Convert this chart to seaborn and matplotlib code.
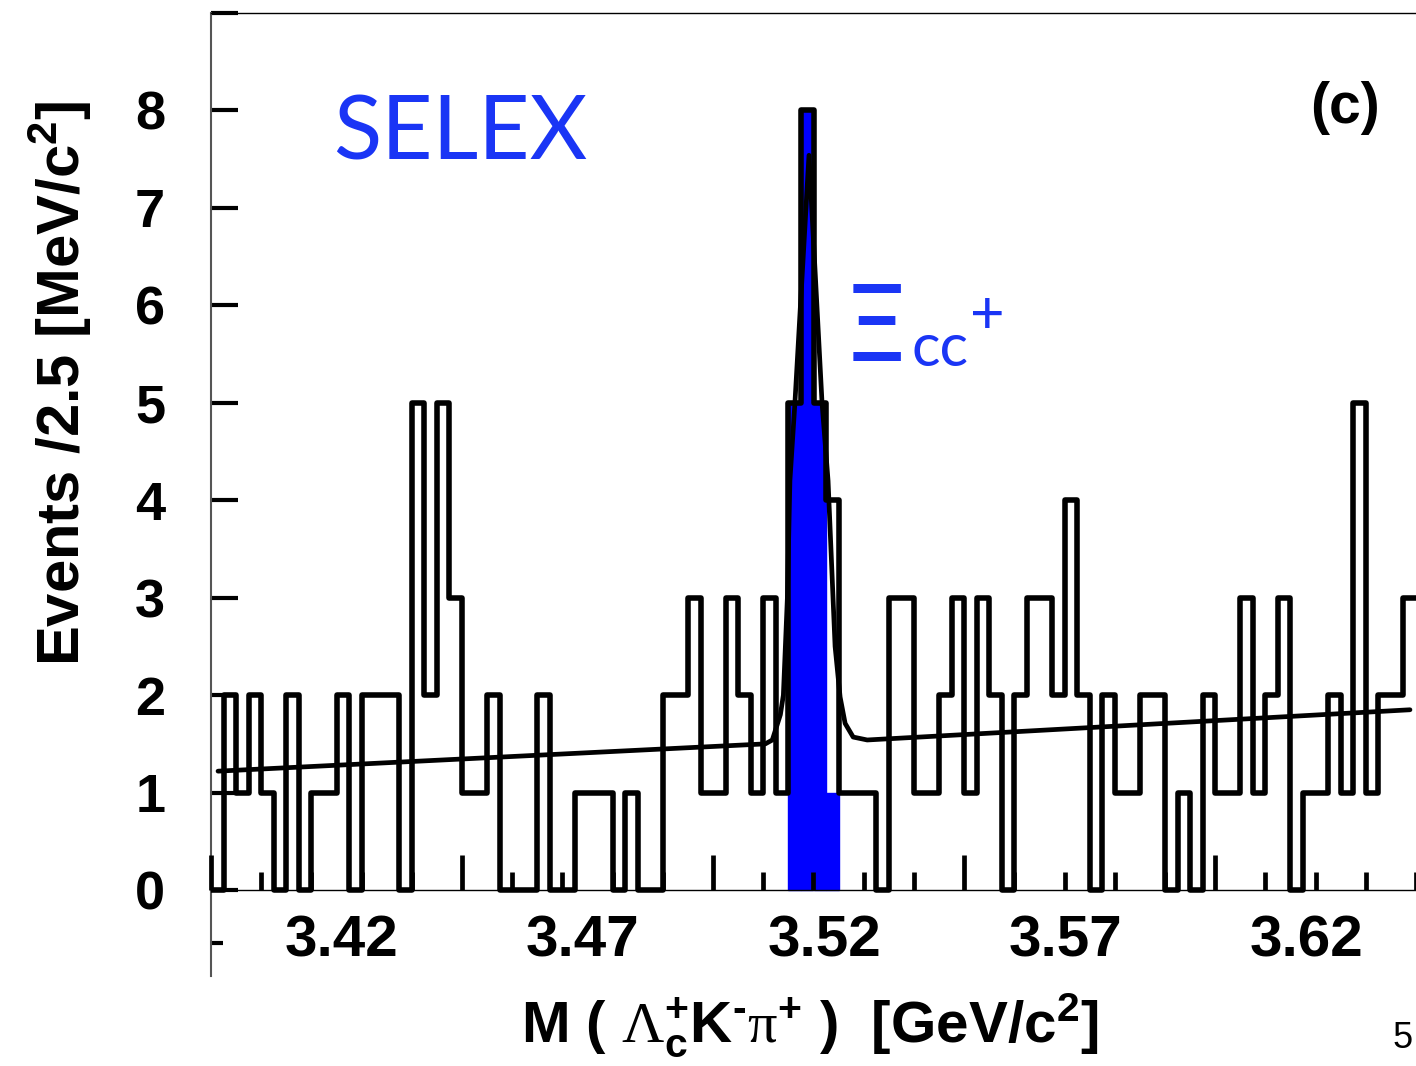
import numpy as np
import pandas as pd
import matplotlib
matplotlib.use("Agg")
import matplotlib.pyplot as plt
import seaborn as sns

# ---------------- data ----------------
mass_lo, mass_hi, n_bins = 3.40, 3.64, 96          # GeV/c^2, 2.5 MeV bins
counts = [0, 2, 1, 2, 1, 0, 2, 0, 1, 1,
          2, 0, 2, 2, 2, 0, 5, 2, 5, 3,
          1, 1, 2, 0, 0, 0, 2, 0, 0, 1,
          1, 1, 0, 1, 0, 0, 2, 2, 3, 1,
          1, 3, 2, 1, 3, 1, 5, 8, 5, 4,
          1, 1, 1, 0, 3, 3, 1, 1, 2, 3,
          1, 3, 2, 0, 2, 3, 3, 2, 4, 2,
          0, 2, 1, 1, 2, 2, 0, 1, 0, 2,
          1, 1, 3, 1, 2, 3, 0, 1, 1, 2,
          1, 5, 1, 2, 2, 3]
signal_first_bin = 46
signal_counts = [5, 8, 5, 1]

fit_mass = [3.4014, 3.5104, 3.5118, 3.5134, 3.5140, 3.5148, 3.5153, 3.5163,
            3.5191, 3.5217, 3.5229, 3.5243, 3.5253, 3.5263, 3.5279, 3.5307, 3.6388]
fit_events = [1.22, 1.50, 1.54, 1.80, 2.00, 3.00, 4.20, 5.00,
              7.54, 5.00, 4.20, 2.50, 1.98, 1.71, 1.57, 1.54, 1.85]

xtick_pos = [3.4259, 3.4739, 3.5221, 3.5701, 3.6181]
xtick_labels = ["3.42", "3.47", "3.52", "3.57", "3.62"]
ytick_vals = list(range(0, 10))
ytick_labels = ["0", "1", "2", "3", "4", "5", "6", "7", "8", ""]

# ---------------- style ----------------
sns.set_style("white")
plt.rcParams["font.family"] = ["Liberation Sans", "DejaVu Sans"]
plt.rcParams["text.color"] = "black"
plt.rcParams["xtick.color"] = "black"
plt.rcParams["ytick.color"] = "black"
plt.rcParams["mathtext.fontset"] = "custom"
plt.rcParams["mathtext.rm"] = "Liberation Sans:bold"
plt.rcParams["mathtext.it"] = "Liberation Sans:bold"
plt.rcParams["mathtext.bf"] = "Liberation Sans:bold"
plt.rcParams["mathtext.cal"] = "Liberation Serif"

W, H = 1416, 1066
fig = plt.figure(figsize=(W / 100, H / 100), dpi=100, facecolor="white")

def fx(px):
    return px / W

def fy(py):
    return 1 - py / H

ax_left, ax_right, ax_top, ax_bot = 211, 1416, 13, 976
ax = fig.add_axes([fx(ax_left), fy(ax_bot), (ax_right - ax_left) / W, (ax_bot - ax_top) / H])
ax.set_facecolor("white")

edges = np.linspace(mass_lo, mass_hi, n_bins + 1)
centers = 0.5 * (edges[:-1] + edges[1:])
hist_df = pd.DataFrame({"mass": centers, "count": counts})
sig_edges = edges[signal_first_bin:signal_first_bin + len(signal_counts) + 1].tolist()
sig_df = pd.DataFrame({"mass": centers[signal_first_bin:signal_first_bin + len(signal_counts)],
                       "count": signal_counts})
fit_df = pd.DataFrame({"mass": fit_mass, "events": fit_events})

# blue signal region
sns.histplot(data=sig_df, x="mass", weights="count", bins=sig_edges, element="bars",
             fill=True, color="#0000FF", alpha=1.0, edgecolor="#0000FF", linewidth=1.0,
             ax=ax, zorder=1)
# fit curve
sns.lineplot(data=fit_df, x="mass", y="events", color="black", linewidth=3.4, ax=ax, zorder=3)
# data histogram outline
sns.histplot(data=hist_df, x="mass", weights="count", bins=edges.tolist(), element="step",
             fill=False, color="black", linewidth=4.0, ax=ax, zorder=4)

ax.set_xlim(mass_lo, mass_hi)
ax.set_ylim(-0.882, 9.0)
ax.set_xlabel("")
ax.set_ylabel("")

for side in ["bottom", "right"]:
    ax.spines[side].set_visible(False)
ax.spines["left"].set_color("#555555")
ax.spines["left"].set_linewidth(1.5)
ax.spines["top"].set_color("black")
ax.spines["top"].set_linewidth(1.0)

ax.set_yticks(ytick_vals)
ax.set_yticklabels(ytick_labels)
ax.set_yticks([-0.54], minor=True)
ax.tick_params(axis="y", which="major", direction="in", length=19.5, width=3.0,
               pad=33, labelsize=39, left=True, color="black", labelcolor="black")
ax.tick_params(axis="y", which="minor", direction="in", length=8.5, width=3.0,
               left=True, color="black")
ax.set_xticks(xtick_pos)
ax.set_xticklabels(xtick_labels)
ax.tick_params(axis="x", which="major", length=0, pad=-44, labelsize=42, labelcolor="black")
for lab in ax.get_yticklabels() + ax.get_xticklabels():
    lab.set_fontweight("bold")

# overlay axis: zero line with inward ticks (every 10 MeV, long every 50 MeV)
zero_py = 890
ax2 = fig.add_axes([fx(ax_left), fy(zero_py), (ax_right - ax_left) / W, (zero_py - ax_top) / H])
ax2.patch.set_alpha(0)
ax2.set_xlim(mass_lo, mass_hi)
ax2.set_ylim(0, 9)
for side in ["top", "left", "right"]:
    ax2.spines[side].set_visible(False)
ax2.spines["bottom"].set_color("black")
ax2.spines["bottom"].set_linewidth(1.0)
ax2.set_xticks(np.arange(mass_lo, mass_hi + 1e-6, 0.05))
ax2.set_xticks(np.arange(mass_lo, mass_hi + 1e-6, 0.01), minor=True)
ax2.tick_params(axis="x", which="major", direction="in", length=25, width=3.4,
                labelbottom=False, bottom=True, color="black")
ax2.tick_params(axis="x", which="minor", direction="in", length=13, width=3.4,
                bottom=True, color="black")
ax2.set_yticks([])
ax2.grid(False)

# ---------------- texts ----------------
fig.text(fx(810), fy(1042),
         r"M ( $\mathcal{\Lambda}_{c}^{+}$K$^{\text{-}}$$\mathcal{\pi}^{+}$ )  [GeV/c$^{2}$]",
         ha="center", va="baseline", fontsize=42, fontweight="bold", color="black")
fig.text(fx(60), fy(383), r"Events /2.5 [MeV/c$^{2}$]", rotation=90,
         ha="center", va="center", fontsize=43, fontweight="bold", color="black")

blue_txt = "#1A35F5"
fig.text(fx(333), fy(160), "SELEX", color=blue_txt, fontsize=64,
         family=["Lato", "DejaVu Sans"], ha="left", va="baseline")
fig.text(fx(1345), fy(108), "(c)", fontsize=41, fontweight="bold",
         ha="center", va="center", color="black")
fig.text(fx(843), fy(361), "\u039e", color=blue_txt, fontsize=76,
         family=["DejaVu Sans"], ha="left", va="baseline")
fig.text(fx(912), fy(366), "cc", color=blue_txt, fontsize=43,
         family=["Lato", "DejaVu Sans"], ha="left", va="baseline")
fig.text(fx(987), fy(316), "+", color=blue_txt, fontsize=43,
         family=["Lato", "DejaVu Sans"], ha="center", va="center")
fig.text(fx(1413), fy(1048), "5", fontsize=26, ha="right", va="baseline", color="black")

fig.savefig("out.png", dpi=100, facecolor="white")
